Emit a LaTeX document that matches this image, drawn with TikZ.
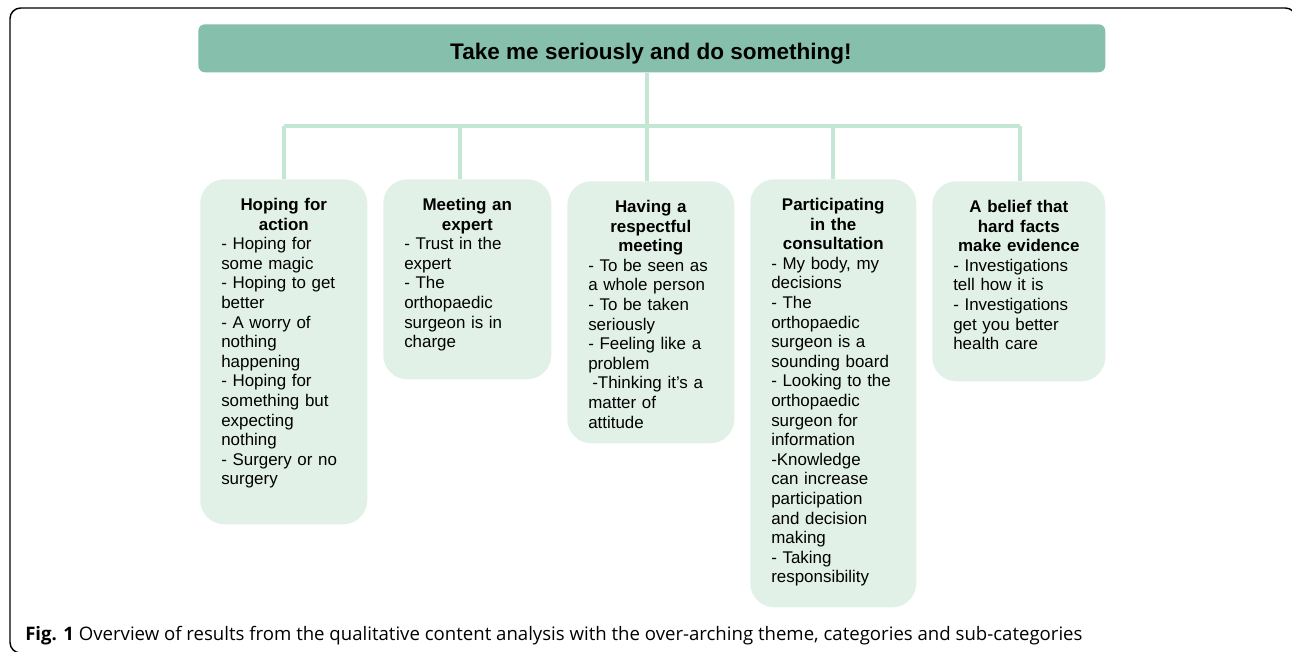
\documentclass[tikz,border=0pt]{standalone}
\usepackage{fontspec}
\setmainfont{Liberation Sans}
\newfontfamily\capfont{Open Sans}
\definecolor{titlefill}{RGB}{134,191,171}
\definecolor{linegreen}{RGB}{196,230,213}
\definecolor{boxfill}{RGB}{225,241,232}
\begin{document}
\begin{tikzpicture}[x=0.75pt,y=-0.75pt,
  catbox/.style={fill=boxfill, draw=none, rounded corners=18pt, inner sep=0pt, anchor=north west},
  cattext/.style={inner sep=0pt, anchor=north, align=left, font=\fontsize{12.7}{14.7}\selectfont},
  conn/.style={draw=linegreen, line width=3pt},
  frame/.style={draw=black, line width=1.1pt, rounded corners=8pt}]
\useasboundingbox (0,0) rectangle (1292,651);
\clip (0,0) rectangle (1292,651);
\draw[frame] (200,653) -- (10,653) -- (10,8) -- (1296,8) -- (1296,700);
% title
\node[fill=titlefill, rounded corners=5pt, minimum width=907*0.75pt, minimum height=48*0.75pt, inner sep=0pt, anchor=north west] (title) at (198,24) {};
\node[inner sep=0pt, anchor=base] (titletext) at (651,59) {\bfseries\fontsize{16.9}{20}\selectfont Take me seriously and do something!};
% boxes
\node[catbox, minimum width=167*0.75pt, minimum height=345*0.75pt] (b1) at (200,179) {};
\node[catbox, minimum width=168*0.75pt, minimum height=200*0.75pt] (b2) at (383,179) {};
\node[catbox, minimum width=167*0.75pt, minimum height=262*0.75pt] (b3) at (567,181) {};
\node[catbox, minimum width=166*0.75pt, minimum height=428*0.75pt] (b4) at (750,179) {};
\node[catbox, minimum width=173*0.75pt, minimum height=200*0.75pt] (b5) at (932,181) {};
% connectors
\coordinate (bar) at (647,126);
\coordinate (d1) at (284,126);
\coordinate (d2) at (460,126);
\coordinate (d3) at (647,126);
\coordinate (d4) at (833,126);
\coordinate (d5) at (1020,126);
\draw[conn] (title.south -| bar) -- (bar);
\draw[conn] (d1) -- (d5);
\draw[conn] (d1) -- (d1 |- b1.north);
\draw[conn] (d2) -- (d2 |- b2.north);
\draw[conn] (d3) -- (d3 |- b3.north);
\draw[conn] (d4) -- (d4 |- b4.north);
\draw[conn] (d5) -- (d5 |- b5.north);
% texts
\node[cattext, text width=125*0.75pt] (t1) at (b1.north |- 0,198) {%
{\centering\bfseries Hoping for\\action\par}
- Hoping for\\some magic\\- Hoping to get\\better\\- A worry of\\nothing\\happening\\- Hoping for\\something but\\expecting\\nothing\\- Surgery or no\\surgery};
\node[cattext, text width=126*0.75pt] (t2) at (b2.north |- 0,198) {%
{\centering\bfseries Meeting an\\expert\par}
- Trust in the\\expert\\- The\\orthopaedic\\surgeon is in\\charge};
\node[cattext, text width=125*0.75pt] (t3) at (b3.north |- 0,200) {%
{\centering\bfseries Having a\\respectful\\meeting\par}
- To be seen as\\a whole person\\- To be taken\\seriously\\- Feeling like a\\problem\\\hspace*{3pt}-Thinking it’s a\\matter of\\attitude};
\node[cattext, text width=124*0.75pt] (t4) at (b4.north |- 0,198) {%
{\centering\bfseries Participating\\in the\\consultation\par}
- My body, my\\decisions\\- The\\orthopaedic\\surgeon is a\\sounding board\\- Looking to the\\orthopaedic\\surgeon for\\information\\-Knowledge\\can increase\\participation\\and decision\\making\\- Taking\\responsibility};
\node[cattext, text width=131*0.75pt] (t5) at (b5.north |- 0,200) {%
{\centering\bfseries A belief that\\hard facts\\make evidence\par}
- Investigations\\tell how it is\\- Investigations\\get you better\\health care};
% caption
\node[inner sep=0pt, anchor=base west, font=\capfont\fontsize{13.95}{16}\selectfont] (cap) at (25,640)
  {\textbf{Fig. 1} Overview of results from the qualitative content analysis with the over-arching theme, categories and sub-categories};
\end{tikzpicture}
\end{document}
